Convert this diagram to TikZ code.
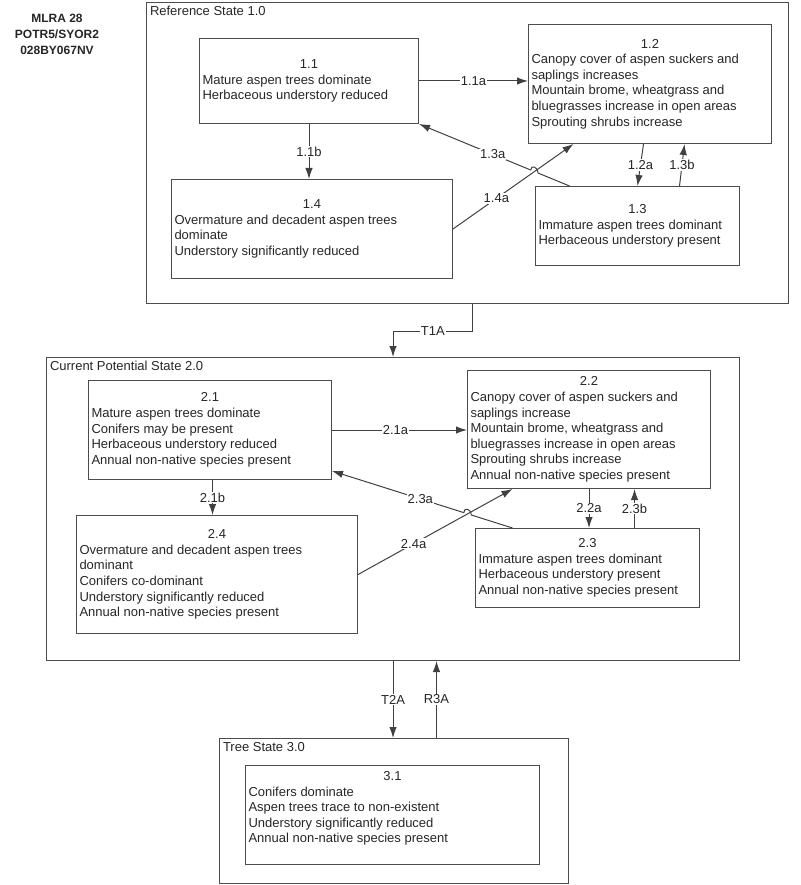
\documentclass[tikz,border=0pt]{standalone}
\usepackage{fontspec}
\setmainfont{Liberation Sans}
\usetikzlibrary{arrows.meta, calc, intersections}

\begin{document}
\begin{tikzpicture}[x=1pt, y=-1pt, line width=1pt, >={Latex[length=11pt,width=7.5pt]},
	every node/.style={font=\fontsize{13}{15.6}\selectfont, text=black!85},
	frame/.style={draw=black!70, anchor=north west, inner sep=0pt},
	phase/.style={draw=black!70, anchor=north west, inner sep=3pt},
	statelab/.style={anchor=north west, inner sep=3.5pt},
	link/.style={draw=black!75, ->},
	lab/.style={fill=white, inner sep=1pt}]
	\useasboundingbox (0,0) rectangle (800,885);
	
	\node[font=\bfseries\fontsize{12}{16.3}\selectfont, align=center] (mlra) at (57,34.5) {MLRA 28\\POTR5/SYOR2\\028BY067NV};
	
	\node[frame, minimum width=642pt, minimum height=301pt] (s1) at (146,2) {};
	\node[statelab] (l1) at (s1.north west) {Reference State 1.0};
	\node[frame, minimum width=693pt, minimum height=303pt] (s2) at (46,357) {};
	\node[statelab] (l2) at (s2.north west) {Current Potential State 2.0};
	\node[frame, minimum width=349pt, minimum height=145pt] (s3) at (219,738) {};
	\node[statelab] (l3) at (s3.north west) {Tree State 3.0};
	
	\node[phase, minimum width=219pt, minimum height=85pt] (p11) at (199,38) {\parbox{213pt}{\centering 1.1\par\raggedright Mature aspen trees dominate\\Herbaceous understory reduced}};
	\node[phase, minimum width=243pt, minimum height=119pt] (p12) at (528,24) {\parbox{237pt}{\centering 1.2\par\raggedright Canopy cover of aspen suckers and\\saplings increases\\Mountain brome, wheatgrass and\\bluegrasses increase in open areas\\Sprouting shrubs increase}};
	\node[phase, minimum width=204pt, minimum height=79pt] (p13) at (535,186) {\parbox{198pt}{\centering 1.3\par\raggedright Immature aspen trees dominant\\Herbaceous understory present}};
	\node[phase, minimum width=281pt, minimum height=99pt] (p14) at (171,179) {\parbox{275pt}{\centering 1.4\par\raggedright Overmature and decadent aspen trees\\dominate\\Understory significantly reduced}};
	
	\node[phase, minimum width=243pt, minimum height=99pt] (p21) at (88,380) {\parbox{237pt}{\centering 2.1\par\raggedright Mature aspen trees dominate\\Conifers may be present\\Herbaceous understory reduced\\Annual non-native species present}};
	\node[phase, minimum width=243pt, minimum height=118pt] (p22) at (467,370) {\parbox{237pt}{\centering 2.2\par\raggedright Canopy cover of aspen suckers and\\saplings increase\\Mountain brome, wheatgrass and\\bluegrasses increase in open areas\\Sprouting shrubs increase\\Annual non-native species present}};
	\node[phase, minimum width=224pt, minimum height=79pt] (p23) at (475,528) {\parbox{218pt}{\centering 2.3\par\raggedright Immature aspen trees dominant\\Herbaceous understory present\\Annual non-native species present}};
	\node[phase, minimum width=281pt, minimum height=118pt] (p24) at (76,515) {\parbox{275pt}{\centering 2.4\par\raggedright Overmature and decadent aspen trees\\dominant\\Conifers co-dominant\\Understory significantly reduced\\Annual non-native species present}};
	
	\node[phase, minimum width=294pt, minimum height=99pt] (p31) at (245,765) {\parbox{288pt}{\centering 3.1\par\raggedright Conifers dominate\\Aspen trees trace to non-existent\\Understory significantly reduced\\Annual non-native species present\\\mbox{}}};
	
	\coordinate (a13) at ([xshift=-68pt]p13.north);
	\coordinate (a12) at ([xshift=-76.5pt]p12.south);
	\draw[link] (p11.east) -- node[lab]{1.1a} (p11.east -| p12.west);
	\draw[link] (p11.south) -- node[lab]{1.1b} (p11.south |- p14.north);
	\draw[link] ([xshift=-6.5pt]p12.south) -- node[lab]{1.2a} (p13.north);
	\draw[link] ([xshift=42pt]p13.north) -- node[lab]{1.3b} ([xshift=34.5pt]p12.south);
	\draw[link, name path=w14] (p14.east) -- node[lab, pos=0.36]{1.4a} (a12);
	\path[name path=w13] (a13) -- (p11.south east);
	\path[name intersections={of=w13 and w14, by=x1}];
	\draw[link] (a13) -- ($(x1)!4pt!(a13)$) .. controls +(0,-6) and +(0,-6) .. ($(x1)!4pt!(p11.south east)$) -- node[lab, pos=0.34]{1.3a} (p11.south east);
	
	\coordinate (b21) at ([xshift=2.5pt]p21.south);
	\coordinate (c23) at ([xshift=47pt]p23.north);
	\coordinate (a23) at ([xshift=-75pt]p23.north);
	\coordinate (a22) at ([xshift=-76.5pt]p22.south);
	\coordinate (c21) at ([yshift=9pt]p21.south east);
	\draw[link] (p21.east) -- node[lab, pos=0.47]{2.1a} (p21.east -| p22.west);
	\draw[link] (b21) -- node[lab]{2.1b} (b21 |- p24.north);
	\draw[link] (p22.south) -- node[lab]{2.2a} (p22.south |- p23.north);
	\draw[link] (c23) -- node[lab]{2.3b} (c23 |- p22.south);
	\draw[link, name path=w24] (p24.east) -- node[lab, pos=0.36]{2.4a} (a22);
	\path[name path=w23] (a23) -- (c21);
	\path[name intersections={of=w23 and w24, by=x2}];
	\draw[link] (a23) -- ($(x2)!4pt!(a23)$) .. controls +(0,-6) and +(0,-6) .. ($(x2)!4pt!(c21)$) -- node[lab, pos=0.33]{2.3a} (c21);
	
	\coordinate (k1) at ([xshift=5pt]s1.south);
	\coordinate (r3) at ([xshift=42.5pt]s3.north);
	\draw[link] (k1) |- node[lab, pos=0.75]{T1A} ([yshift=26pt]s2.north) -- (s2.north);
	\draw[link] (s2.south) -- node[lab]{T2A} (s2.south |- s3.north);
	\draw[link] (r3) -- node[lab]{R3A} (r3 |- s2.south);
\end{tikzpicture}
\end{document}
